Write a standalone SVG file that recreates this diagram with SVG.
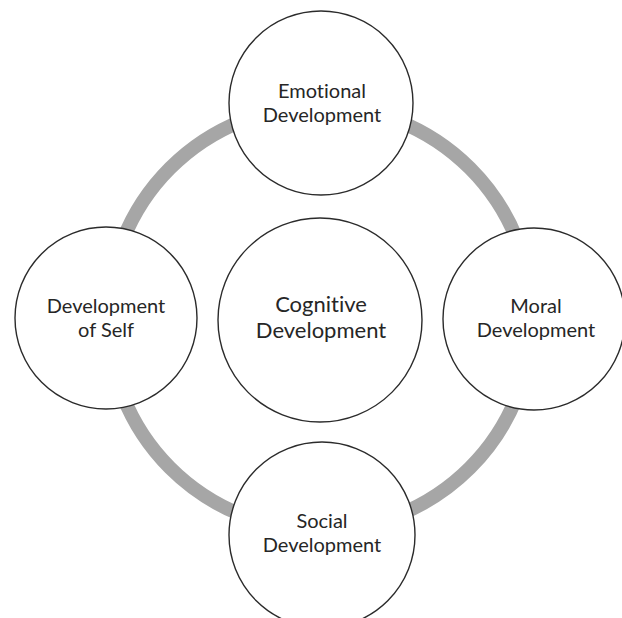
<svg xmlns="http://www.w3.org/2000/svg" width="622" height="618" viewBox="0 0 622 618">
<style>
.node{fill:#ffffff;stroke:#2b2b2b;stroke-width:1.4}
.lbl{font-family:Lato,"Open Sans","Liberation Sans",sans-serif;font-size:20px;fill:#262626;text-anchor:middle;font-variant-ligatures:none;font-feature-settings:"liga" 0}
.big{font-size:22px}
.ring{fill:none;stroke:#a6a6a6;stroke-width:14}
</style>
<rect width="622" height="618" fill="#ffffff"/>
<g id="connectors">
<circle class="ring" cx="320" cy="318" r="212"/>
</g>
<g id="node-cognitive">
<circle class="node" cx="320" cy="320" r="102"/>
<text class="lbl big" x="321" y="312">Cognitive</text>
<text class="lbl big" x="321" y="338">Development</text>
</g>
<g id="node-emotional">
<circle class="node" cx="321" cy="103" r="92"/>
<text class="lbl" x="322" y="98">Emotional</text>
<text class="lbl" x="322" y="122">Development</text>
</g>
<g id="node-self">
<circle class="node" cx="106" cy="318" r="91"/>
<text class="lbl" x="106" y="313">Development</text>
<text class="lbl" x="106" y="337">of Self</text>
</g>
<g id="node-moral">
<circle class="node" cx="534" cy="319" r="91"/>
<text class="lbl" x="536" y="313">Moral</text>
<text class="lbl" x="536" y="337">Development</text>
</g>
<g id="node-social">
<circle class="node" cx="322" cy="535" r="93"/>
<text class="lbl" x="322" y="528">Social</text>
<text class="lbl" x="322" y="552">Development</text>
</g>
</svg>
